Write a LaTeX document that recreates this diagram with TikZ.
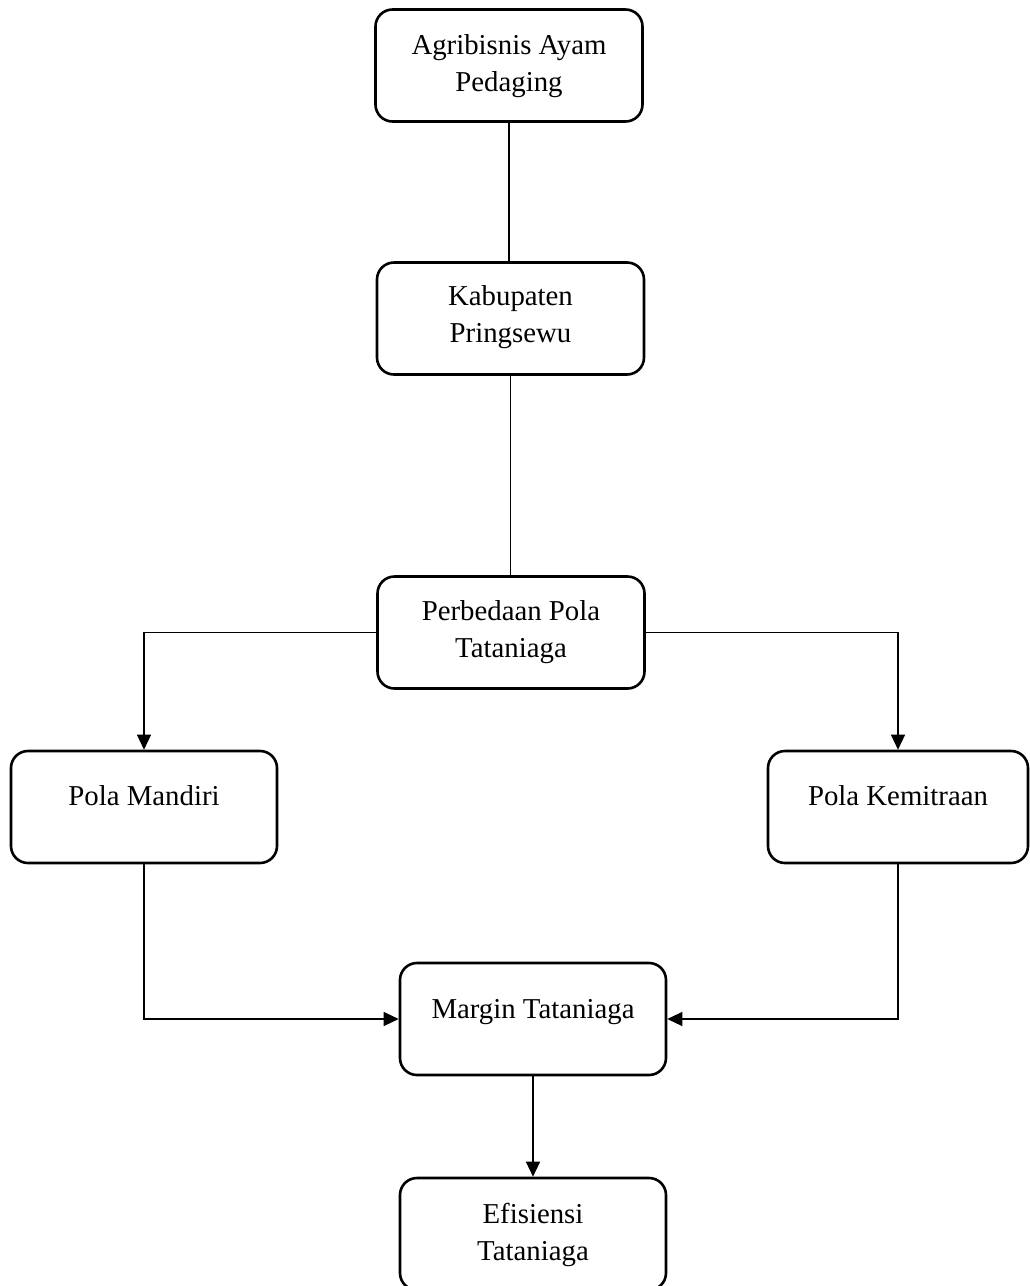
\documentclass[tikz,border=0pt]{standalone}
\usepackage{fontspec}
\setmainfont{Liberation Serif}
\usetikzlibrary{arrows.meta}
\begin{document}
\begin{tikzpicture}[x=1pt,y=-1pt,
  box/.style={draw, line width=2.6pt, rounded corners=17pt, minimum width=267pt, minimum height=112pt, inner sep=0pt},
  lbl/.style={font=\fontsize{28.8}{37}\selectfont, align=center, anchor=base, inner sep=0pt},
  conn/.style={line width=1.3pt},
  arr/.style={conn, -{Triangle[length=15pt,width=14pt]}}]
\useasboundingbox (0,0) rectangle (1029,1286);
% boxes
\node[box] (A)  at (509,65.5) {};
\node[box] (K)  at (510.5,318.5) {};
\node[box] (P)  at (511,632.5) {};
\node[box, minimum width=266pt] (M)  at (144,807) {};
\node[box, minimum width=260pt] (Ke) at (898,807) {};
\node[box, minimum width=266pt] (Mg) at (533,1019) {};
\node[box, minimum width=266pt] (E)  at (533,1234) {};
% labels (base anchor = baseline of the last line)
\node[lbl] (At)  at (509,91)   {Agribisnis Ayam\\Pedaging};
\node[lbl] (Kt)  at (510.5,342) {Kabupaten\\Pringsewu};
\node[lbl] (Pt)  at (511,657)  {Perbedaan Pola\\Tataniaga};
\node[lbl] (Mt)  at (144,805)  {Pola Mandiri};
\node[lbl] (Ket) at (898,805)  {Pola Kemitraan};
\node[lbl] (Mgt) at (533,1018) {Margin Tataniaga};
\node[lbl] (Et)  at (533,1260) {Efisiensi\\Tataniaga};
% connectors
\draw[conn] (A.south) -- (A.south |- K.north);
\draw[conn] (K.south) -- (K.south |- P.north);
\draw[arr] (P.west) -| (M.north);
\draw[arr] (P.east) -| (Ke.north);
\draw[arr] (M.south) |- (Mg.west);
\draw[arr] (Ke.south) |- (Mg.east);
\draw[arr] (Mg.south) -- (E.north);
\end{tikzpicture}
\end{document}
